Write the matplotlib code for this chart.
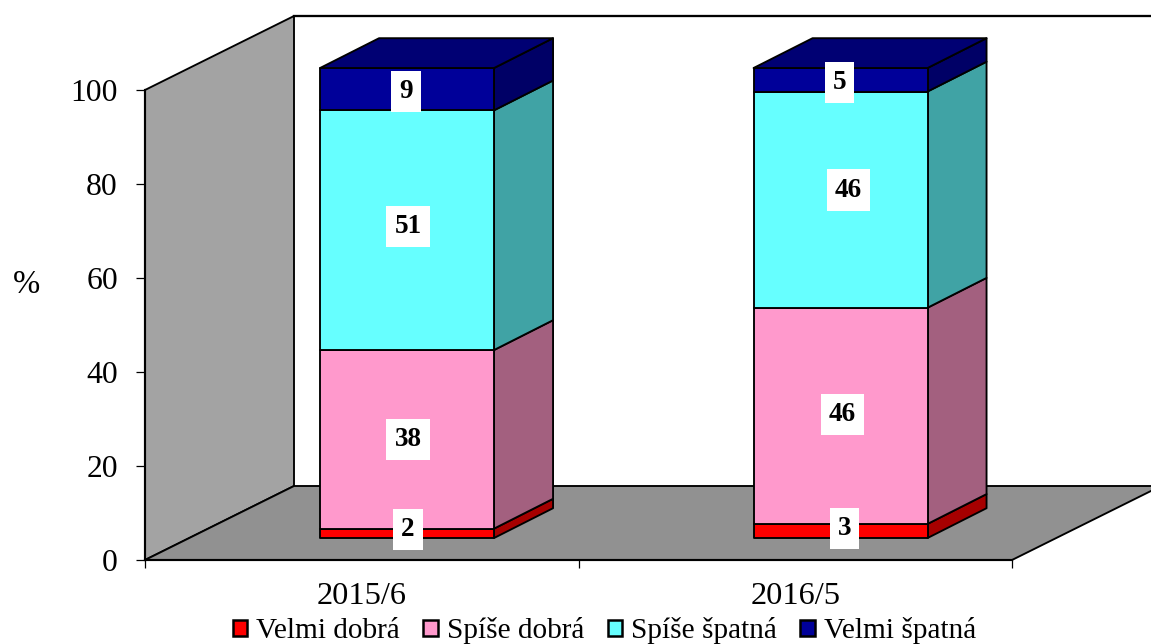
#!/usr/bin/env python3
import numpy as np
import matplotlib
matplotlib.use("Agg")
import matplotlib.pyplot as plt
from matplotlib.patches import Patch, Polygon

plt.rcParams['font.family'] = ['Liberation Serif', 'DejaVu Serif']

# --- data ---
years = ['2015/6', '2016/5']
series_names = ['Velmi dobrá', 'Spíše dobrá', 'Spíše špatná', 'Velmi špatná']
velmi_dobra = [2, 3]
spise_dobra = [38, 46]
spise_spatna = [51, 46]
velmi_spatna = [9, 5]

# --- colours: front face, side face ---
front_colors = ['#FF0000', '#FF99CC', '#66FFFF', '#000099']
side_colors = ['#A60000', '#A3607F', '#40A3A5', '#000066']
top_color = '#000073'
wall_color = '#A3A3A3'
floor_color = '#919191'

W, H = 1151, 644
AX_LEFT, AX_RIGHT, AX_TOP, AX_BOTTOM = 145, 1012, 90, 560  # pixels
PX_X = (AX_RIGHT - AX_LEFT) / len(years)
PX_Y = (AX_BOTTOM - AX_TOP) / 100

# depth of the 3d box, in data units
DEPTH_X = 149 / PX_X
DEPTH_Y = 74 / PX_Y
BAR_WIDTH = 174 / PX_X
BAR_FRONT = 0.304  # share of depth in front of the bar
BAR_BACK = 0.70

# small shifts of the value labels, in pixels
label_shift = [[(1, 4), (1, 0), (1, 4), (-1, -2.5)],
               [(4, 2.5), (2, 1.5), (8, 9.5), (-1, -2.5)]]
LW = 1.35


def face(ax, pts, color, z, lw=LW):
    ax.add_patch(Polygon(pts, closed=True, facecolor=color, edgecolor='black',
                         linewidth=lw, zorder=z, clip_on=False, joinstyle='round'))


def draw_walls(ax):
    n = len(years)
    dx, dy = DEPTH_X, DEPTH_Y
    face(ax, [(0, 0), (dx, dy), (dx, 100 + dy), (0, 100)], wall_color, 1)
    face(ax, [(0, 0), (n, 0), (n + dx, dy), (dx, dy)], floor_color, 1)
    ax.plot([dx, n + dx], [100 + dy, 100 + dy], color='black', lw=LW + 0.3, clip_on=False, zorder=1)


def draw_bar(ax, i, values):
    x0 = i + 0.5 - BAR_WIDTH / 2 + BAR_FRONT * DEPTH_X
    x1 = x0 + BAR_WIDTH
    y0 = 0.297 * DEPTH_Y
    dx = (BAR_BACK - BAR_FRONT) * DEPTH_X
    dy = (BAR_BACK - 0.297) * DEPTH_Y
    tops = np.cumsum(values)
    bottoms = tops - np.array(values)
    for j in range(len(values)):
        lo, hi = y0 + bottoms[j], y0 + tops[j]
        face(ax, [(x1, lo), (x1 + dx, lo + dy), (x1 + dx, hi + dy), (x1, hi)], side_colors[j], 3)
        face(ax, [(x0, lo), (x1, lo), (x1, hi), (x0, hi)], front_colors[j], 4)
        shift = label_shift[i][j]
        ax.annotate(str(values[j]), ((x0 + x1) / 2, (lo + hi) / 2), xytext=(shift[0] * 0.72, shift[1] * 0.72),
                    textcoords='offset points', ha='center', va='center', fontsize=19.5, fontweight='bold',
                    zorder=6, annotation_clip=False,
                    bbox=dict(facecolor='white', edgecolor='none', boxstyle='square,pad=0.3'))
    hi = y0 + tops[-1]
    face(ax, [(x0, hi), (x1, hi), (x1 + dx, hi + dy), (x0 + dx, hi + dy)], top_color, 5)


def main():
    fig = plt.figure(figsize=(W / 100, H / 100), dpi=100)
    ax = fig.add_axes([AX_LEFT / W, 1 - AX_BOTTOM / H, (AX_RIGHT - AX_LEFT) / W, (AX_BOTTOM - AX_TOP) / H])
    ax.set_xlim(0, len(years))
    ax.set_ylim(0, 100)
    ax.patch.set_visible(False)

    draw_walls(ax)
    table = np.array([velmi_dobra, spise_dobra, spise_spatna, velmi_spatna])
    for i in range(len(years)):
        draw_bar(ax, i, [int(v) for v in table[:, i]])

    # --- axes ---
    for s in ['top', 'right']:
        ax.spines[s].set_visible(False)
    for s in ['left', 'bottom']:
        ax.spines[s].set_linewidth(LW + 0.2)
        ax.spines[s].set_zorder(2)
    ax.set_yticks(range(0, 101, 20))
    ax.tick_params(axis='y', length=6.5, width=0.9, pad=13, labelsize=22.8)
    ax.set_xticks(range(len(years) + 1))
    ax.set_xticklabels([])
    ax.tick_params(axis='x', which='major', length=6, width=0.9)
    ax.set_xticks([i + 0.5 for i in range(len(years))], minor=True)
    ax.set_xticklabels(years, minor=True, fontsize=23.3)
    ax.tick_params(axis='x', which='minor', length=0, pad=16)

    ax.set_ylabel('%', rotation=0, fontsize=23.5)
    ax.yaxis.set_label_coords((26 - AX_LEFT) / (AX_RIGHT - AX_LEFT), (AX_BOTTOM - 300) / (AX_BOTTOM - AX_TOP))

    handles = [Patch(facecolor=c, edgecolor='black', linewidth=1.8) for c in front_colors]
    fig.legend(handles, series_names, ncol=4, loc='lower center', bbox_to_anchor=(604.5 / W, -0.028),
               frameon=False, fontsize=21.1, handlelength=0.5, handleheight=0.5,
               handletextpad=0.3, columnspacing=0.8, borderpad=0.1, labelspacing=0)

    fig.savefig('out.png', dpi=100)


if __name__ == '__main__':
    main()
